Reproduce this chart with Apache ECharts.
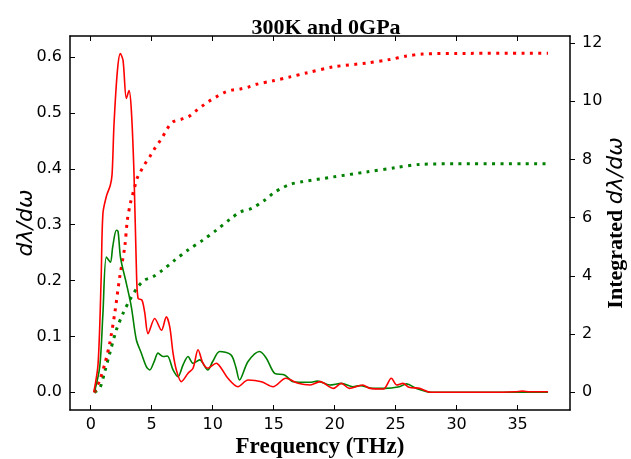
<!DOCTYPE html>
<html>
<head>
<meta charset="utf-8">
<script src="https://cdn.jsdelivr.net/npm/echarts@6/dist/echarts.min.js"></script>
<style>html,body{margin:0;padding:0;background:#fff}#c{width:631px;height:459px}</style>
</head>
<body>
<div id="c"></div>
<script>
// Frequency (THz) and dλ/dω values
var redDosFreq = [0.25,0.6,0.85,1.0,1.3,1.6,1.75,1.91,2.19,2.43,2.65,2.92,3.14,3.33,3.55,3.74,3.88,4.2,4.43,4.7,5.25,5.8,6.2,6.48,6.75,7.02,7.43,7.98,8.39,8.8,9.2,9.6,10.3,10.7,11.25,12.07,12.9,14.0,14.95,16.0,17.0,18.0,18.8,19.9,20.55,21.2,22.3,22.9,24.0,24.65,25.1,25.6,26.1,26.97,27.9,30,33,34.8,35.4,36,37.5];
var redDosVal  = [0,0.05,0.2,0.32,0.352,0.37,0.39,0.48,0.576,0.606,0.594,0.526,0.54,0.505,0.39,0.225,0.168,0.165,0.142,0.105,0.132,0.111,0.135,0.117,0.07,0.04,0.019,0.034,0.043,0.076,0.052,0.043,0.052,0.043,0.025,0.01,0.022,0.019,0.01,0.025,0.016,0.013,0.019,0.007,0.016,0.007,0.013,0.007,0.006,0.025,0.013,0.016,0.009,0.007,0,0,0,0.001,0.002,0.001,0.001];

var greenDosFreq = [0.3,0.74,1.0,1.28,1.61,1.8,2.1,2.24,2.45,2.92,3.33,3.74,4.15,4.56,4.84,5.2,5.52,5.93,6.28,6.75,7.16,7.57,7.98,8.39,8.93,9.6,10.0,10.57,11.5,11.9,12.2,12.9,13.85,14.4,15.08,15.9,16.6,17.95,18.6,19.6,20.55,21.5,22.1,23.1,24.1,25.3,25.9,26.7,27.9,30,35,37.5];
var greenDosVal  = [0,0.046,0.141,0.242,0.233,0.26,0.29,0.288,0.24,0.195,0.153,0.094,0.07,0.046,0.04,0.055,0.07,0.064,0.065,0.04,0.028,0.049,0.064,0.052,0.058,0.04,0.055,0.073,0.067,0.045,0.022,0.055,0.073,0.061,0.034,0.031,0.019,0.018,0.02,0.013,0.016,0.01,0.012,0.007,0.007,0.01,0.015,0.007,0,0,0,0];

// Integrated dλ/dω
var redIntFreq = [0.3,0.74,1.2,1.56,1.97,2.38,2.79,3.0,3.25,3.42,3.61,3.8,4.07,4.43,4.84,5.19,5.57,5.93,6.28,6.75,7.43,8.06,8.6,9.16,9.7,10.3,10.9,11.58,12.27,12.95,13.58,14.94,16.3,17.68,19.9,22.6,24.5,25.9,27.2,30,37.5];
var redIntVal  = [0,0.42,1.05,1.69,2.72,3.97,5.0,5.91,6.49,6.77,7.06,7.35,7.57,7.84,8.09,8.34,8.57,8.8,9.06,9.29,9.38,9.48,9.66,9.84,10.0,10.15,10.29,10.38,10.42,10.49,10.58,10.7,10.83,10.97,11.18,11.31,11.43,11.55,11.62,11.64,11.65];

var greenIntFreq = [0.3,0.74,1.15,1.56,2.1,2.65,3.2,3.88,4.4,5.1,5.8,6.89,7.98,9.2,10.3,11.5,12.3,13.2,14.26,15.0,15.6,16.4,17.3,19.9,22.6,25.05,27.0,30,37.5];
var greenIntVal  = [0,0.14,0.71,1.34,2.14,2.71,3.17,3.63,3.85,3.97,4.17,4.54,4.89,5.23,5.57,5.97,6.2,6.32,6.6,6.85,7.0,7.15,7.23,7.4,7.57,7.72,7.83,7.85,7.85];

var xTicks = [0,5,10,15,20,25,30,35];
var yLeftTicks = [0,0.1,0.2,0.3,0.4,0.5,0.6];
var yRightTicks = [0,2,4,6,8,10,12];

function pairs(a,b){ return a.map(function(v,i){ return [v,b[i]]; }); }

var chart = echarts.init(document.getElementById('c'), null, {renderer:'canvas'});
var tickFont = {fontFamily:'DejaVu Sans', fontSize:16, color:'#000'};
var lineC = {color:'#000', width:1.5};
chart.setOption({
  animation:false,
  backgroundColor:'#fff',
  title:{text:'300K and 0GPa', left:321, top:12, textAlign:'center',
    textStyle:{fontFamily:'Liberation Serif', fontWeight:'bold', fontSize:22, color:'#000'}},
  grid:{left:70, right:61, top:36, bottom:49, containLabel:false, outerBoundsMode:'none'},
  xAxis:[{
    type:'value', min:-1.7, max:39.3, position:'bottom',
    axisLine:{show:true, onZero:false, lineStyle:lineC},
    axisTick:{show:true, inside:true, length:5, customValues:xTicks, lineStyle:{color:'#000',width:1}},
    axisLabel:Object.assign({show:true, margin:7, customValues:xTicks}, tickFont),
    splitLine:{show:false},
    name:'Frequency (THz)', nameLocation:'middle', nameGap:26, nameMoveOverlap:false,
    nameTextStyle:{fontFamily:'Liberation Serif', fontWeight:'bold', fontSize:23, color:'#000'}
  },{
    type:'value', min:-1.7, max:39.3, position:'top',
    axisLine:{show:true, onZero:false, lineStyle:lineC},
    axisTick:{show:true, inside:true, length:5, customValues:xTicks, lineStyle:{color:'#000',width:1}},
    axisLabel:{show:false}, splitLine:{show:false}
  }],
  yAxis:[{
    type:'value', min:-0.0317, max:0.6376, position:'left',
    axisLine:{show:true, onZero:false, lineStyle:lineC},
    axisTick:{show:true, inside:true, length:5, customValues:yLeftTicks, lineStyle:{color:'#000',width:1}},
    axisLabel:Object.assign({show:true, margin:8, customValues:yLeftTicks, formatter:function(v){return v.toFixed(1);}}, tickFont),
    splitLine:{show:false},
    name:'dλ/dω', nameLocation:'middle', nameGap:33, nameRotate:90, nameMoveOverlap:false,
    nameTextStyle:{fontFamily:'DejaVu Sans', fontStyle:'italic', fontSize:22, color:'#000'}
  },{
    type:'value', min:-0.608, max:12.24, position:'right',
    axisLine:{show:true, onZero:false, lineStyle:lineC},
    axisTick:{show:true, inside:false, length:5, customValues:yRightTicks, lineStyle:{color:'#000',width:1}},
    axisLabel:Object.assign({show:true, margin:12, customValues:yRightTicks}, tickFont),
    splitLine:{show:false},
    name:'{b|Integrated }{i|dλ/dω}', nameLocation:'middle', nameGap:35, nameRotate:90, nameMoveOverlap:false,
    nameTextStyle:{color:'#000', rich:{
      b:{fontFamily:'Liberation Serif', fontWeight:'bold', fontSize:22, color:'#000'},
      i:{fontFamily:'DejaVu Sans', fontStyle:'italic', fontSize:22, color:'#000'}}}
  }],
  series:[
    {type:'line', name:'greenDos', xAxisIndex:0, yAxisIndex:0, data:pairs(greenDosFreq,greenDosVal),
     showSymbol:false, smooth:0.3, lineStyle:{color:'#008000', width:1.6}, z:3},
    {type:'line', name:'redDos', xAxisIndex:0, yAxisIndex:0, data:pairs(redDosFreq,redDosVal),
     showSymbol:false, smooth:0.3, lineStyle:{color:'#ff0000', width:1.6}, z:4},
    {type:'line', name:'greenInt', xAxisIndex:0, yAxisIndex:1, data:pairs(greenIntFreq,greenIntVal),
     showSymbol:false, smooth:0.3, lineStyle:{color:'#008000', width:3, type:[3,5.4], cap:'butt'}, z:2},
    {type:'line', name:'redInt', xAxisIndex:0, yAxisIndex:1, data:pairs(redIntFreq,redIntVal),
     showSymbol:false, smooth:0.3, lineStyle:{color:'#ff0000', width:3, type:[3,5.4], cap:'butt'}, z:2}
  ]
});
</script>
</body>
</html>
